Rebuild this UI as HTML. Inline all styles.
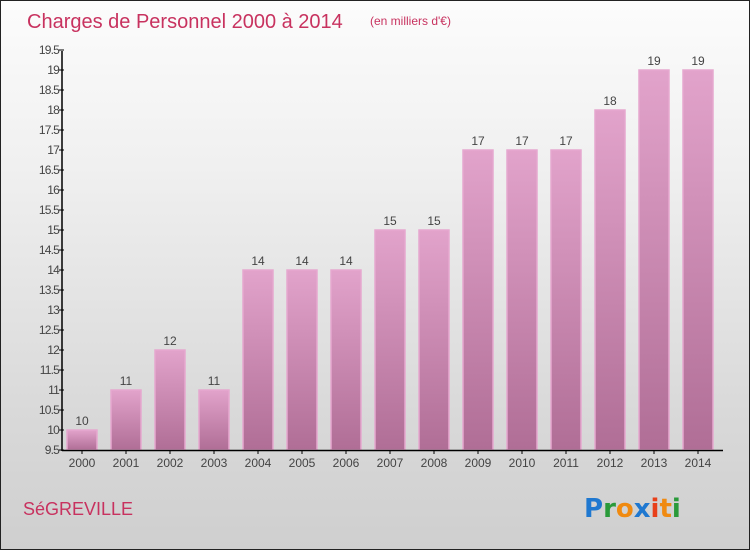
<!DOCTYPE html>
<html><head><meta charset="utf-8"><style>
body{margin:0}
#c{width:748px;height:548px;border:1px solid #222;background:linear-gradient(#fcfcfc,#f0f0f0 30%,#d9d9d9 75%,#cfcfcf);position:relative;overflow:hidden;font-family:"Liberation Sans",sans-serif}
</style></head><body>
<div id="c">
<svg width="748" height="548" id="svg">
<defs><linearGradient id="bg" x1="0" y1="0" x2="0" y2="1"><stop offset="0" stop-color="#e2a3cb"/><stop offset="1" stop-color="#b06e96"/></linearGradient></defs>
<text x="26" y="27" font-size="20" fill="#c8325f">Charges de Personnel 2000 à 2014</text>
<text x="369" y="24" font-size="12" fill="#c8325f">(en milliers d'€)</text>
<text x="22" y="514" font-size="18" fill="#c8325f">SéGREVILLE</text>
<g font-size="26" font-family="'DejaVu Sans',sans-serif" font-weight="bold"><text x="583" y="516"><tspan fill="#1f78d0">P</tspan><tspan fill="#2a9a3a">r</tspan><tspan fill="#f08a10">o</tspan><tspan fill="#1f78d0">x</tspan><tspan fill="#e8401a">i</tspan><tspan fill="#f08a10">t</tspan><tspan fill="#2a9a3a">i</tspan></text></g>
<g id="g"></g>
</svg></div>
<script>
const years=["2000","2001","2002","2003","2004","2005","2006","2007","2008","2009","2010","2011","2012","2013","2014"];
const values=[10,11,12,11,14,14,14,15,15,17,17,17,18,19,19];
const labels=["10","11","12","11","14","14","14","15","15","17","17","17","18","19","19"];
const ticks=[9.5,10,10.5,11,11.5,12,12.5,13,13.5,14,14.5,15,15.5,16,16.5,17,17.5,18,18.5,19,19.5];
const NS="http://www.w3.org/2000/svg",g=document.getElementById('g');
const x0=59,step=44,yv=v=>449-(v-9.5)*40;
function el(t,a,txt){const e=document.createElementNS(NS,t);for(const k in a)e.setAttribute(k,a[k]);if(txt!=null)e.textContent=txt;g.appendChild(e);return e;}
values.forEach((v,i)=>{const cx=x0+step*i+22;
const r=el('rect',{x:cx-15,y:yv(v),width:30,height:449-yv(v),fill:'url(#bg)',stroke:'#e6a8cf','stroke-width':1.5});


const t=el('text',{x:cx,y:yv(v)-5,'text-anchor':'middle','font-size':12,fill:'#444'},labels[i]);


const xl=el('text',{x:cx,y:466,'text-anchor':'middle','font-size':12,fill:'#444'},years[i]);


const tk=el('line',{x1:cx,x2:cx,y1:449,y2:453,stroke:'#000'});


});
ticks.forEach(v=>{const y=yv(v);
const l=el('line',{x1:58,x2:63,y1:y,y2:y,stroke:'#000'});


const t=el('text',{x:58,y:y+4,'text-anchor':'end','font-size':12,fill:'#444','letter-spacing':'-0.8'},String(v));


});
const ya=el('line',{x1:61,x2:61,y1:50,y2:450,stroke:'#000','stroke-width':1.5});


const xa=el('line',{x1:61,x2:722,y1:449.5,y2:449.5,stroke:'#000','stroke-width':1.5});


</script>
</body></html>
